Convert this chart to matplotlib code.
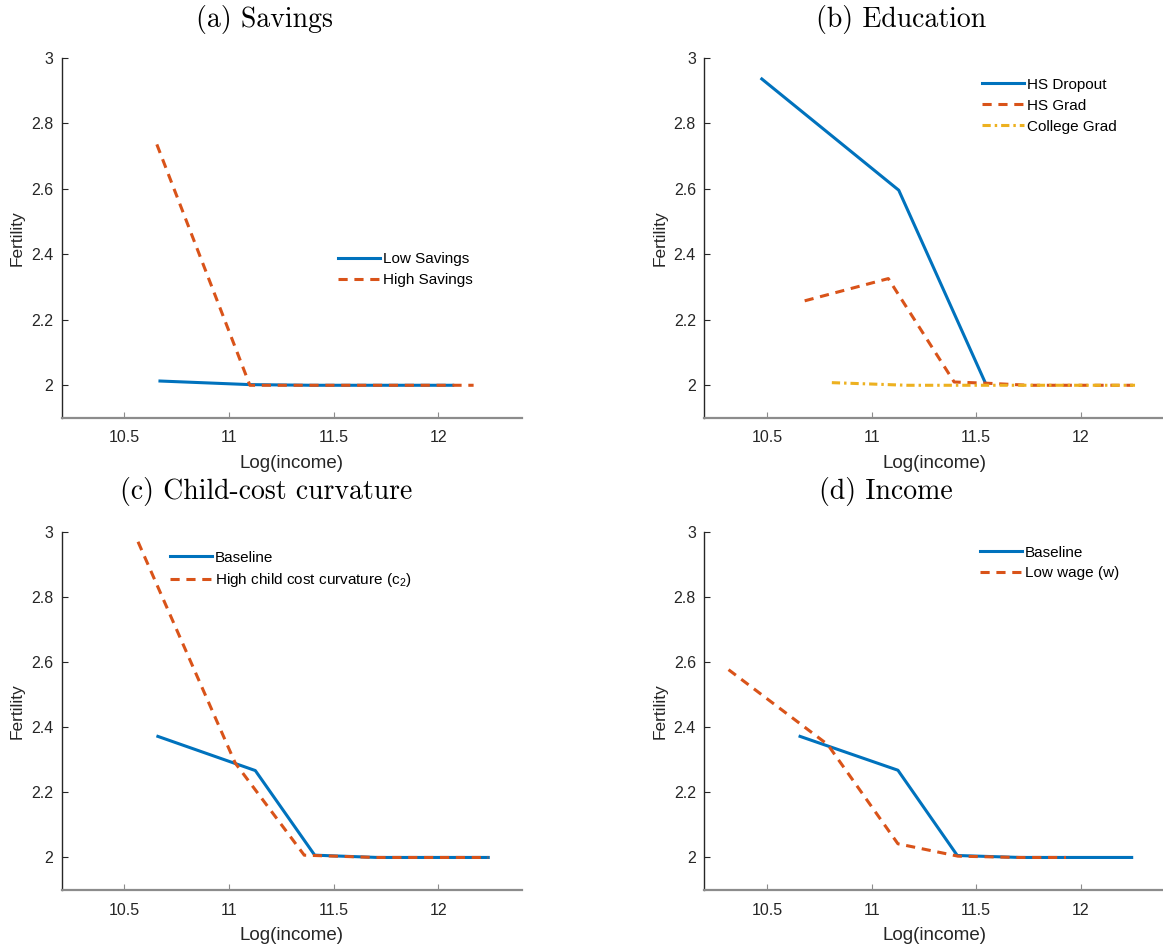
import matplotlib
matplotlib.use("Agg")
import matplotlib.pyplot as plt

# ---------------- data ----------------
# (a) Savings
sav_low_x = [10.67, 11.10, 11.40, 11.70, 12.07]
sav_low_y = [2.013, 2.002, 2.000, 2.000, 2.000]
sav_high_x = [10.655, 11.10, 11.40, 11.70, 12.17]
sav_high_y = [2.736, 2.000, 2.000, 2.000, 2.000]

# (b) Education
edu_drop_x = [10.475, 11.13, 11.545]
edu_drop_y = [2.936, 2.596, 2.006]
edu_hs_x = [10.68, 11.08, 11.395, 11.56, 11.75, 12.25]
edu_hs_y = [2.258, 2.326, 2.010, 2.006, 2.000, 2.000]
edu_col_x = [10.81, 11.17, 11.50, 11.80, 12.26]
edu_col_y = [2.008, 2.000, 2.000, 2.000, 2.000]

# (c) Child-cost curvature
cc_base_x = [10.66, 11.126, 11.41, 11.71, 12.24]
cc_base_y = [2.372, 2.267, 2.007, 2.000, 2.000]
cc_high_x = [10.565, 11.03, 11.36, 11.70, 12.24]
cc_high_y = [2.970, 2.290, 2.007, 2.000, 2.000]

# (d) Income
inc_base_x = [10.658, 11.126, 11.41, 11.71, 12.244]
inc_base_y = [2.372, 2.268, 2.006, 2.000, 2.000]
inc_low_x = [10.316, 10.79, 11.126, 11.413, 11.70, 11.93]
inc_low_y = [2.577, 2.347, 2.042, 2.004, 2.000, 2.000]

titles = ["(a) Savings", "(b) Education", "(c) Child-cost curvature", "(d) Income"]
xticks = [10.5, 11, 11.5, 12]
yticks = [2, 2.2, 2.4, 2.6, 2.8, 3]
ytick_labels = ["2", "2.2", "2.4", "2.6", "2.8", "3"]
xtick_labels = ["10.5", "11", "11.5", "12"]

# ---------------- style ----------------
plt.rcParams['font.family'] = ['Liberation Sans', 'DejaVu Sans']
plt.rcParams['mathtext.fontset'] = 'custom'
plt.rcParams['mathtext.rm'] = 'Liberation Sans'
plt.rcParams['mathtext.it'] = 'Liberation Sans:italic'

BLUE = '#0072BD'
ORANGE = '#D95319'
YELLOW = '#EDB120'
LW = 2.2
DASH = (3.0, 2.2)
DASHDOT = (2.7, 1.3, 0.8, 1.3)

W, H = 1163, 947
fig = plt.figure(figsize=(W / 100, H / 100), dpi=100)

def px_axes(left, top, right, bottom):
    return fig.add_axes([left / W, (H - bottom) / H, (right - left) / W, (bottom - top) / H])

ax_a = px_axes(61.7, 58, 521.7, 418)
ax_b = px_axes(704.3, 58, 1164.3, 418)
ax_c = px_axes(61.7, 532, 521.7, 890)
ax_d = px_axes(704.3, 532, 1164.3, 890)

def style(ax):
    ax.set_xlim(10.2, 12.4)
    ax.set_ylim(1.9, 3.0)
    ax.set_xticks(xticks)
    ax.set_xticklabels(xtick_labels)
    ax.set_yticks(yticks)
    ax.set_yticklabels(ytick_labels)
    for s in ['top', 'right']:
        ax.spines[s].set_visible(False)
    ax.spines['left'].set_color('#262626')
    ax.spines['bottom'].set_color('#8c8c8c')
    ax.spines['left'].set_linewidth(1.0)
    ax.spines['bottom'].set_linewidth(1.6)
    ax.tick_params(axis='both', direction='in', length=4, width=0.8,
                   labelsize=11.5, labelcolor='#262626', color='#262626')
    ax.tick_params(axis='x', pad=9, color='#8c8c8c')
    ax.tick_params(axis='y', pad=6)
    ax.set_xlabel('Log(income)', fontsize=13.5, color='#262626')
    ax.xaxis.set_label_coords(0.5, -0.103)
    ax.set_ylabel('Fertility', fontsize=12.5, color='#262626')
    ax.yaxis.set_label_coords(-0.08, 0.5)

for ax in (ax_a, ax_b, ax_c, ax_d):
    style(ax)

leg_kw = dict(frameon=False, fontsize=11, handlelength=2.75, handletextpad=0.2,
              labelspacing=0.45, borderpad=0, borderaxespad=0, loc='upper left')

# (a)
ax_a.plot(sav_low_x, sav_low_y, color=BLUE, lw=LW, label='Low Savings')
ax_a.plot(sav_high_x, sav_high_y, color=ORANGE, lw=LW, dashes=DASH, label='High Savings')
ax_a.legend(bbox_to_anchor=(0.6007, 0.460), **leg_kw)

# (b)
ax_b.plot(edu_drop_x, edu_drop_y, color=BLUE, lw=LW, label='HS Dropout')
ax_b.plot(edu_hs_x, edu_hs_y, color=ORANGE, lw=LW, dashes=DASH, label='HS Grad')
ax_b.plot(edu_col_x, edu_col_y, color=YELLOW, lw=LW, dashes=DASHDOT, label='College Grad')
ax_b.legend(bbox_to_anchor=(0.603, 0.945), **leg_kw)

# (c)
ax_c.plot(cc_base_x, cc_base_y, color=BLUE, lw=LW, label='Baseline')
ax_c.plot(cc_high_x, cc_high_y, color=ORANGE, lw=LW, dashes=DASH,
          label=r'High child cost curvature (c$_{2}$)')
ax_c.legend(bbox_to_anchor=(0.2354, 0.948), **leg_kw)

# (d)
ax_d.plot(inc_base_x, inc_base_y, color=BLUE, lw=LW, label='Baseline')
ax_d.plot(inc_low_x, inc_low_y, color=ORANGE, lw=LW, dashes=DASH, label='Low wage (w)')
ax_d.legend(bbox_to_anchor=(0.5993, 0.962), **leg_kw)

# subfigure captions (serif, LaTeX-like)
title_pos = [(265, 27), (901, 27), (266, 499), (886, 499)]
for t, (cx, by) in zip(titles, title_pos):
    fig.text(cx / W, (H - by) / H, t, ha='center', va='baseline',
             fontsize=20, family='cmr10', color='black')

fig.savefig('out.png', dpi=100)
